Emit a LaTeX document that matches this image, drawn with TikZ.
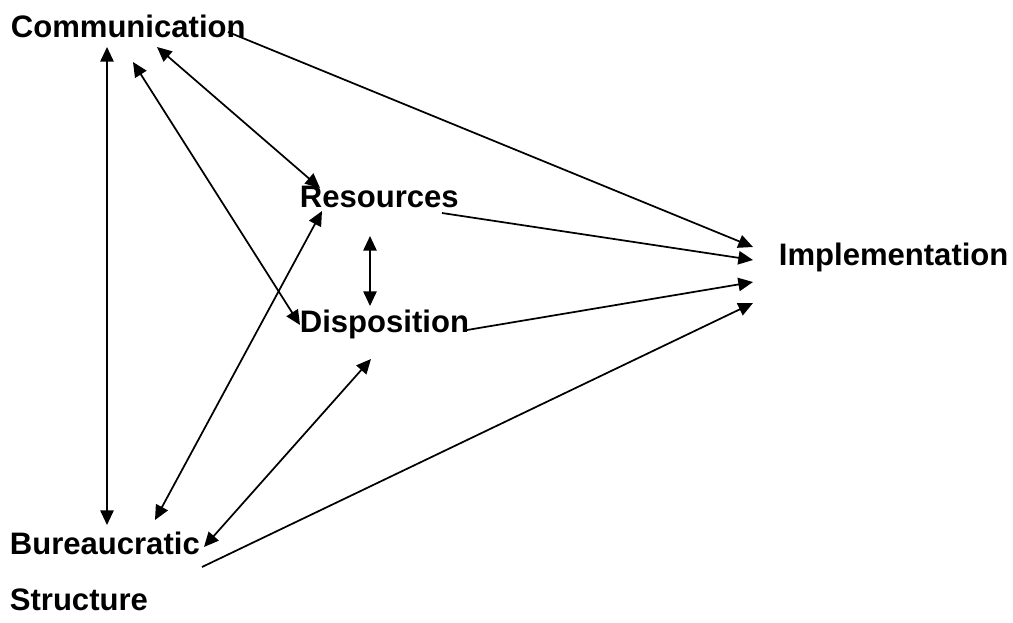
\documentclass[tikz,border=0pt]{standalone}
\usepackage{fontspec}
\setmainfont{Liberation Sans}
\usetikzlibrary{arrows.meta}
\usetikzlibrary{positioning}

\begin{document}
\begin{tikzpicture}[x=0.75pt,y=-0.75pt,>={Triangle[length=11pt,width=10pt]},line width=1.3pt]
		\tikzset{factor/.style = {inner sep=0pt, anchor=base west, font=\fontsize{23.3}{28}\selectfont\bfseries}}
		\useasboundingbox (0,0) rectangle (1013,622);
		\node[factor] (COMM) at (10,37) {Communication};
		\node[factor] (RES) at (299,207) {Resources};
		\node[factor] (DISP) at (299,332) {Disposition};
		\node[factor] (IMPL) at (778,265) {Implementation};
		\node[factor] (BUR) at (9,554) {Bureaucratic};
		\node[factor] (STRUCT) at (9,610) {Structure};
		
		\draw[<->] ([shift={(97,10)}]COMM.base west) -- ([shift={(98,-29)}]BUR.base west);
		\draw[<->] ([shift={(123,25)}]COMM.base west) -- ([shift={(1,-7)}]DISP.base west);
		\draw[<->] ([shift={(147,10)}]COMM.base west) -- ([shift={(21,-19)}]RES.base west);
		\draw[<->] ([shift={(71,29)}]RES.base west) -- ([shift={(71,-26)}]DISP.base west);
		\draw[<->] ([shift={(146,-34)}]BUR.base west) -- ([shift={(23,4)}]RES.base west);
		\draw[<->] ([shift={(195,-7)}]BUR.base west) -- ([shift={(72,27)}]DISP.base west);
		
		\draw[->] ([shift={(218,-5)}]COMM.base west) -- ([shift={(-25,-18)}]IMPL.base west);
		\draw[->] ([shift={(143,6)}]RES.base west) -- ([shift={(-25,-5)}]IMPL.base west);
		\draw[->] ([shift={(168,-2)}]DISP.base west) -- ([shift={(-25,17)}]IMPL.base west);
		\draw[->] ([shift={(193,13)}]BUR.base west) -- ([shift={(-25,38)}]IMPL.base west);
\end{tikzpicture}
\end{document}
